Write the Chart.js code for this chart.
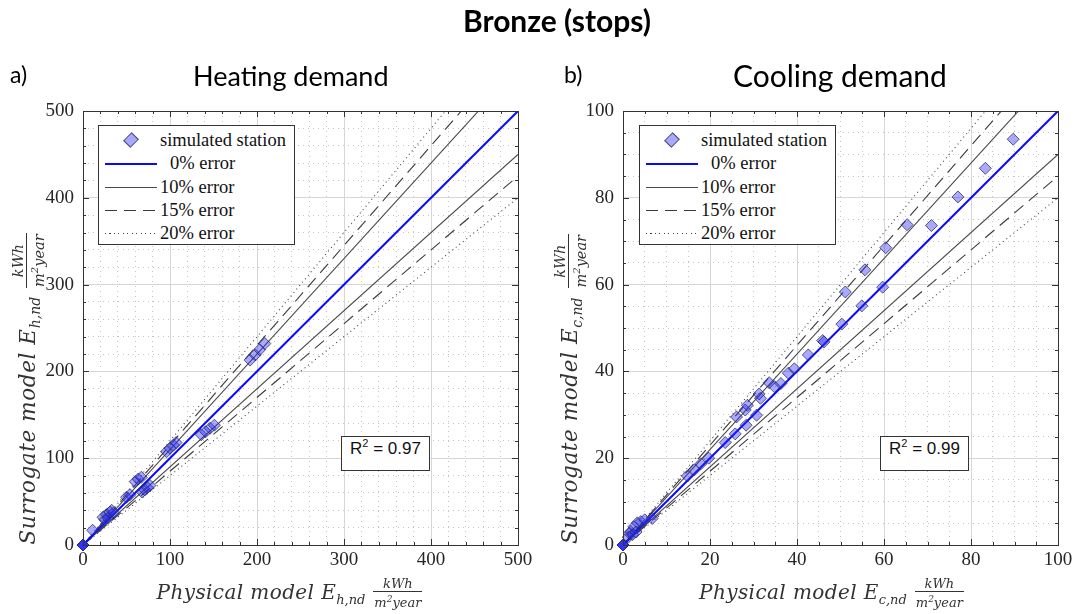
<!DOCTYPE html>
<html>
<head>
<meta charset="utf-8">
<script src="https://cdn.jsdelivr.net/npm/chart.js@4"></script>
<style>
  body { margin: 0; background: #fff; }
  #page { position: relative; width: 1078px; height: 614px; overflow: hidden; background: #fff; }
  canvas { position: absolute; top: 0; }
  .maintitle { position: absolute; left: 18px; width: 1078px; top: 2px; text-align: center;
    font: bold 30px Lato, "Open Sans", sans-serif; color: #000; }
  .sub { position: absolute; top: 59px; font: 27px Lato, "Open Sans", sans-serif; color: #000; }
  .tag { position: absolute; top: 60px; font: 23px Lato, "Open Sans", sans-serif; color: #000; }
  .xlab, .ylab { position: absolute; text-align: center; white-space: nowrap;
    font-family: "DejaVu Serif", "Liberation Serif", serif; font-style: italic; color: #333; }
  .xlab { width: 435px; top: 577px; font-size: 20px; letter-spacing: 0.4px; }
  .ylab { width: 480px; height: 44px; line-height: 44px; transform: rotate(-90deg);
    font-size: 21.5px; letter-spacing: 0.6px; }
  .xlab sub { font-size: 13px; letter-spacing: 0; }
  .ylab sub { font-size: 14px; letter-spacing: 0; }
  .frac { display: inline-block; vertical-align: middle; text-align: center; font-size: 13px;
    line-height: 14px; margin-left: 8px; letter-spacing: 0; }
  .ylab .frac { font-size: 14.5px; line-height: 15px; margin-left: 9px; }
  .frac span { display: block; padding: 0 1px; }
  .frac span:first-child { border-bottom: 1px solid #333; }
  .frac sup { font-size: 9px; }
  .ylab .frac sup { font-size: 10px; }
  .legend { position: absolute; top: 125px; width: 197px; height: 120px; border: 1px solid #333;
    background: #fff; box-sizing: border-box; padding-top: 3px;
    font: 18.5px "Liberation Serif", "DejaVu Serif", serif; color: #111; }
  .row { position: relative; height: 23.3px; line-height: 23.3px; }
  .row .lbl { position: absolute; left: 61px; }
  .sw { position: absolute; left: 6px; width: 52px; top: 11px; height: 1px; }
  .dia { position: absolute; left: 26px; top: 5px; width: 10px; height: 10px;
    background: rgba(40,40,255,0.4); border: 1px solid #444a66; transform: rotate(45deg) scaleX(0.85); }
  .rbox { position: absolute; top: 436px; width: 89px; height: 35px; border: 1px solid #333;
    box-sizing: border-box; background: #fff; text-align: center; line-height: 33px;
    font: 17px "Liberation Sans", Arial, sans-serif; color: #111; }
  .rbox sup { font-size: 11px; }
</style>
</head>
<body>
<div id="page">
  <canvas id="heatChart" width="540" height="614" style="left:0"></canvas>
  <canvas id="coolChart" width="538" height="614" style="left:540px"></canvas>

  <div class="maintitle">Bronze (stops)</div>
  <div class="tag" style="left:10px">a)</div>
  <div class="tag" style="left:564px">b)</div>
  <div class="sub" style="left:193px">Heating demand</div>
  <div class="sub" style="left:733px; font-size:30px; top:57px">Cooling demand</div>

  <div class="xlab" style="left:72px">Physical model <span>E</span><sub>h,nd</sub><span class="frac"><span>kWh</span><span>m<sup>2</sup>year</span></span></div>
  <div class="xlab" style="left:614px">Physical model <span>E</span><sub>c,nd</sub><span class="frac"><span>kWh</span><span>m<sup>2</sup>year</span></span></div>
  <div class="ylab" style="left:-212px; top:367px">Surrogate model <span>E</span><sub>h,nd</sub><span class="frac"><span>kWh</span><span>m<sup>2</sup>year</span></span></div>
  <div class="ylab" style="left:330px; top:367px">Surrogate model <span>E</span><sub>c,nd</sub><span class="frac"><span>kWh</span><span>m<sup>2</sup>year</span></span></div>

  <div class="legend" style="left:98px" id="legHeat"></div>
  <div class="legend" style="left:639px" id="legCool"></div>

  <div class="rbox" style="left:341px">R<sup>2</sup> = 0.97</div>
  <div class="rbox" style="left:880px">R<sup>2</sup> = 0.99</div>
</div>

<script>
// ---- data ----
const heatX = [0, 0, 0, 0, 0, 0, 11, 23, 25, 27, 29, 31, 33, 35, 50, 54, 60, 63.5, 67, 68, 71, 74, 77,
  96, 100, 104, 107, 136, 141, 146, 151, 192, 198, 203, 209];
const heatY = [0, 0, 0, 0, 0, 0, 17, 32, 29, 35, 31, 38, 40, 37, 55, 58, 73, 76, 78, 61, 63.5, 66, 68.5,
  107.5, 111.5, 115, 118, 127, 130.5, 134.5, 138, 213, 219, 225, 232];

const coolX = [0, 0, 0, 0, 0, 0, 1.2, 1.5, 1.8, 2.2, 2.5, 3, 3.3, 4.1, 5, 6.7,
  14.8, 16.4, 17.9, 19.7, 23.5, 25.8, 28.3, 30.7,
  26.1, 28.1, 28.6, 31.3, 31.6, 33.6, 34.8, 36.3, 38.0, 39.4, 42.6, 45.9, 46.2,
  50.3, 54.9, 59.7, 51.1, 55.6, 60.4, 65.3, 70.9, 77.0, 83.3, 89.7];
const coolY = [0, 0, 0, 0, 0, 0, 1.8, 2.7, 3.1, 2.4, 4.2, 3.0, 5.1, 5.4, 5.8, 6.1,
  15.9, 17.3, 18.7, 20.0, 23.6, 25.6, 27.6, 29.9,
  29.5, 31.1, 32.2, 34.8, 33.8, 37.4, 36.5, 37.2, 39.6, 40.6, 43.8, 47.1, 46.8,
  50.9, 55.1, 59.4, 58.3, 63.4, 68.5, 73.8, 73.6, 80.2, 86.8, 93.5];

const errorLevels = [0, 10, 15, 20];          // percent
const errorLabels = ['0% error', '10% error', '15% error', '20% error'];
const heatTicks = [0, 100, 200, 300, 400, 500];
const coolTicks = [0, 20, 40, 60, 80, 100];

// ---- styles ----
const AXIS = '#333333';
const TICK_FONT = { family: "'Liberation Serif', 'DejaVu Serif', serif", size: 19 };
const lineStyles = {
  0:  { color: '#0a0aff', width: 2, dash: [] },
  10: { color: '#4a4a4a', width: 1.1, dash: [] },
  15: { color: '#3a3a3a', width: 1.1, dash: [12, 7] },
  20: { color: '#444444', width: 1.1, dash: [1, 3.5] },
};

function pairs(xs, ys) {
  return xs.map((x, i) => ({ x, y: ys[i] }));
}

// reference lines y = (1 ± e) x across the full axis
function errorLineSets(max) {
  const sets = [];
  errorLevels.forEach(e => {
    const st = lineStyles[e];
    const factors = e === 0 ? [1] : [1 + e / 100, 1 - e / 100];
    factors.forEach(f => {
      sets.push({
        type: 'line',
        data: [{ x: 0, y: 0 }, { x: max, y: max * f }],
        borderColor: st.color,
        borderWidth: st.width,
        borderDash: st.dash,
        pointRadius: 0,
        fill: false,
        order: 2,
      });
    });
  });
  return sets;
}

// box around the axes and inward tick marks, like the original figure
const boxPlugin = {
  id: 'box',
  afterDraw(chart) {
    const { ctx, chartArea: a, scales } = chart;
    ctx.save();
    ctx.strokeStyle = AXIS;
    ctx.lineWidth = 1;
    ctx.strokeRect(a.left + 0.5, a.top + 0.5, a.right - a.left, a.bottom - a.top);
    const drawTicks = (scale, len, horiz) => {
      scale.ticks.forEach(t => {
        const p = Math.round(scale.getPixelForValue(t.value)) + 0.5;
        ctx.beginPath();
        if (horiz) {
          ctx.moveTo(p, a.bottom); ctx.lineTo(p, a.bottom - len);
          ctx.moveTo(p, a.top); ctx.lineTo(p, a.top + len);
        } else {
          ctx.moveTo(a.left, p); ctx.lineTo(a.left + len, p);
          ctx.moveTo(a.right, p); ctx.lineTo(a.right - len, p);
        }
        ctx.stroke();
      });
    };
    drawTicks(scales.xm, 3, true);
    drawTicks(scales.ym, 3, false);
    drawTicks(scales.x, 6, true);
    drawTicks(scales.y, 6, false);
    ctx.restore();
  }
};

function makeChart(id, xs, ys, max, major, minorStep, leftPad, rightPad) {
  // in Chart.js v4 the grid line dash is taken from border.dash
  const minorGrid = { color: '#c4c4c4', lineWidth: 1, drawTicks: false };
  const minorBorder = { display: false, dash: [1, 4] };
  return new Chart(document.getElementById(id), {
    type: 'scatter',
    data: {
      datasets: [{
        data: pairs(xs, ys),
        pointStyle: 'rectRot',
        pointRadius: 6,
        pointHoverRadius: 6,
        backgroundColor: 'rgba(40,40,255,0.4)',
        borderColor: 'rgba(40,44,80,0.75)',
        borderWidth: 1,
        clip: false,
        order: 1,
      }, ...errorLineSets(max)]
    },
    options: {
      responsive: false,
      animation: false,
      events: [],
      layout: { padding: { left: leftPad, right: rightPad, top: 111, bottom: 0 } },
      plugins: { legend: { display: false }, tooltip: { enabled: false } },
      scales: {
        xm: {
          type: 'linear', min: 0, max, position: 'bottom',
          ticks: { display: false, stepSize: minorStep },
          grid: minorGrid, border: minorBorder,
          afterFit: s => { s.height = 0; },
        },
        ym: {
          type: 'linear', min: 0, max, position: 'left',
          ticks: { display: false, stepSize: minorStep },
          grid: minorGrid, border: minorBorder,
          afterFit: s => { s.width = 0; },
        },
        x: {
          type: 'linear', min: 0, max,
          afterBuildTicks: s => { s.ticks = major.map(v => ({ value: v })); },
          ticks: { font: TICK_FONT, color: '#262626', padding: 4 },
          grid: { color: '#d6d6d6', lineWidth: 1, drawTicks: false },
          border: { display: false },
          afterFit: s => { s.height = 69; },
        },
        y: {
          type: 'linear', min: 0, max,
          afterBuildTicks: s => { s.ticks = major.map(v => ({ value: v })); },
          ticks: { font: TICK_FONT, color: '#262626', padding: 9 },
          grid: { color: '#d6d6d6', lineWidth: 1, drawTicks: false },
          border: { display: false },
          afterFit: s => { s.width = 83 - leftPad; },
        }
      }
    },
    plugins: [boxPlugin]
  });
}

// legend swatch: a repeating gradient reproduces the canvas dash pattern
function swatchStyle(st, e) {
  const h = e === 0 ? 2 : 1;
  if (st.dash.length === 0) return 'height:' + h + 'px;background:' + st.color;
  const on = st.dash[0], off = st.dash[1];
  return 'height:1px;background:repeating-linear-gradient(90deg,' + st.color + ' 0 ' + on +
    'px, transparent ' + on + 'px ' + (on + off) + 'px)';
}

function buildLegend(id) {
  const el = document.getElementById(id);
  let html = '<div class="row"><div class="dia"></div><span class="lbl">simulated station</span></div>';
  errorLevels.forEach((e, i) => {
    const st = lineStyles[e];
    const pad = e === 0 ? 10 : 0;
    html += '<div class="row"><div class="sw" style="' + swatchStyle(st, e) +
      '"></div><span class="lbl" style="padding-left:' + pad + 'px">' + errorLabels[i] + '</span></div>';
  });
  el.innerHTML = html;
}

makeChart('heatChart', heatX, heatY, 500, heatTicks, 20, 0, 22);
makeChart('coolChart', coolX, coolY, 100, coolTicks, 5, 0, 20);
buildLegend('legHeat');
buildLegend('legCool');
</script>
</body>
</html>
